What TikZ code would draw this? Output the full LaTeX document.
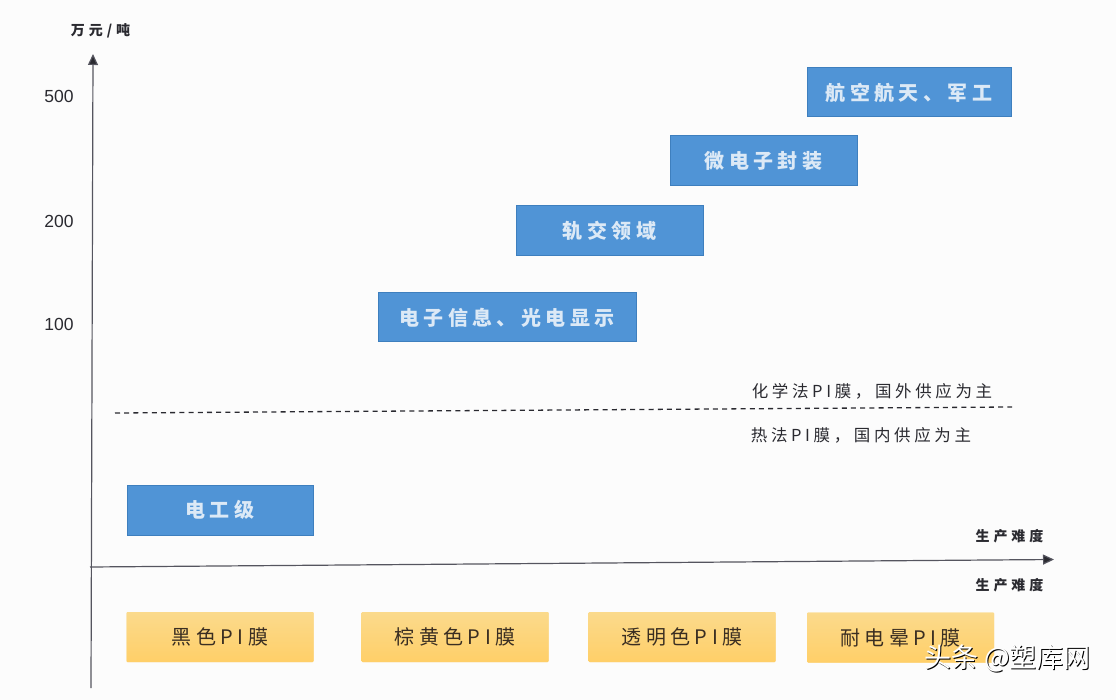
\documentclass[tikz,border=0pt]{standalone}
\usepackage{fontspec}
\setmainfont{Liberation Sans}
\newfontfamily\cjk[LetterSpace=22]{Noto Sans CJK SC}
\newfontfamily\cjklab[LetterSpace=28]{Noto Sans CJK SC}
\newfontfamily\cjkplain{Noto Sans CJK SC}
\usetikzlibrary{arrows.meta}
\definecolor{bluefill}{HTML}{5094D6}
\definecolor{blueedge}{HTML}{3E7FBE}
\definecolor{bluetext}{HTML}{DCE9F6}
\definecolor{yeltop}{HTML}{FBDA8C}
\definecolor{yelbot}{HTML}{FFCF68}
\definecolor{ink}{HTML}{2A2A30}
\definecolor{axisgrey}{HTML}{55555F}
\definecolor{brownink}{HTML}{3A2E22}
\tikzset{
  x=1pt,y=-1pt,
  bluebox/.style={draw=blueedge,line width=1pt,fill=bluefill,text=bluetext,inner sep=0pt,
    font=\fontsize{20}{24}\selectfont\cjk\bfseries},
  yelbox/.style={fill=yeltop,top color=yeltop,bottom color=yelbot,draw=none,text=brownink,inner sep=0pt,
    minimum width=187pt,minimum height=50pt,rounded corners=1pt,
    font=\fontsize{20}{24}\selectfont\cjk},
  note/.style={text=ink,inner sep=0pt,font=\fontsize{16.5}{20}\selectfont\cjk},
  smalllab/.style={text=ink,inner sep=0pt,font=\fontsize{14}{18}\selectfont\cjklab\bfseries},
  valuelab/.style={text=ink,inner sep=0pt,font=\fontsize{17.5}{20}\selectfont},
  axisline/.style={draw=axisgrey,line width=1.2pt,-{Triangle[length=11pt,width=10pt,fill=ink]}},
}
\begin{document}
\begin{tikzpicture}
\useasboundingbox (0,0) rectangle (1116,700);
\fill[white!99!black] (0,0) rectangle (1116,700);
% axes
\coordinate (yStart) at (91,688);
\coordinate (yEnd) at (93,54);
\coordinate (xStart) at (90,567);
\coordinate (xEnd) at (1054,559.5);
\draw[axisline] (yStart) -- (yEnd);
\draw[axisline] (xStart) -- (xEnd);
% dashed
\coordinate (dashL) at (115,413);
\coordinate (dashR) at (1012,407);
\draw[ink,line width=1.3pt,dash pattern=on 5pt off 4.2pt] (dashL) -- (dashR);
% axis labels
\node[smalllab] (unit) at (100.5,31) {万元/吨};
\node[valuelab] (v500) at (59,96) {500};
\node[valuelab] (v200) at (59,221) {200};
\node[valuelab] (v100) at (59,324) {100};
\node[smalllab] (xTop) at (1009.5,536) {生产难度};
\node[smalllab] (xBot) at (1009.5,585) {生产难度};
% blue boxes
\node[bluebox,minimum width=204pt,minimum height=49pt] (aero) at (909,92.5) {航空航天、军工};
\node[bluebox,minimum width=187pt,minimum height=50pt] (micro) at (763.5,161) {微电子封装};
\node[bluebox,minimum width=187pt,minimum height=50pt] (rail) at (609.5,231) {轨交领域};
\node[bluebox,minimum width=258pt,minimum height=49pt] (info) at (507,317.5) {电子信息、光电显示};
\node[bluebox,minimum width=186pt,minimum height=50pt] (elec) at (220,510) {电工级};
% notes
\node[note] (chem) at (872,391) {化学法PI膜，国外供应为主};
\node[note] (therm) at (861,435) {热法PI膜，国内供应为主};
% yellow boxes
\node[yelbox] (black) at (220,637) {黑色PI膜};
\node[yelbox] (brown) at (455,637) {棕黄色PI膜};
\node[yelbox] (clear) at (682,637) {透明色PI膜};
\node[yelbox] (corona) at (900.5,637.5) {耐电晕PI膜};
% watermark
\node[text=black,inner sep=0pt,font=\fontsize{27}{30}\selectfont\cjkplain] (markShadow) at (1008.5,659.5) {头条 @塑库网};
\node[text=white,inner sep=0pt,font=\fontsize{27}{30}\selectfont\cjkplain] (mark) at (1007.5,658.5) {头条 @塑库网};
\end{tikzpicture}
\end{document}
